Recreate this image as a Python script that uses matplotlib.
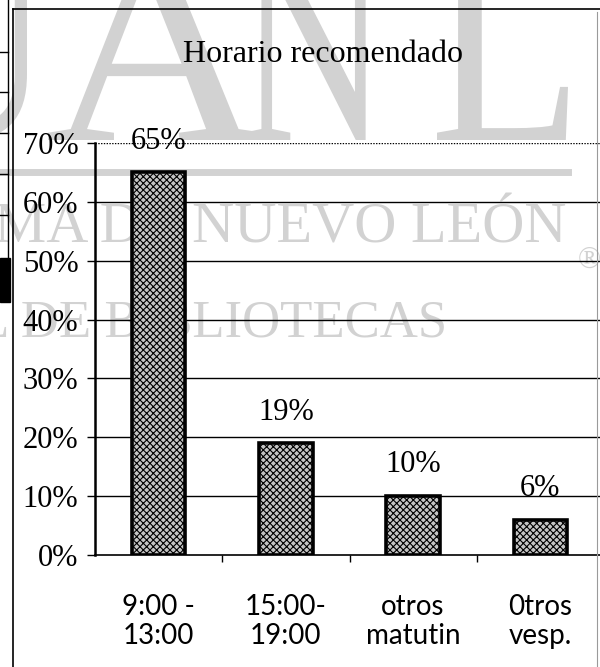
import numpy as np
import matplotlib.pyplot as plt
from matplotlib.lines import Line2D
from matplotlib.patches import Rectangle, PathPatch
from matplotlib.textpath import TextPath
from matplotlib.font_manager import FontProperties
from matplotlib.transforms import Affine2D

plt.rcParams['font.family'] = 'Liberation Serif'
plt.rcParams['hatch.color'] = '#3a3a3a'
plt.rcParams['hatch.linewidth'] = 0.8

# data
categories = ['9:00 -\n13:00', '15:00-\n19:00', 'otros\nmatutin', '0tros\nvesp.']
values = [0.65, 0.19, 0.10, 0.06]
value_labels = ['65%', '19%', '10%', '6%']
y_ticks = [0, 0.1, 0.2, 0.3, 0.4, 0.5, 0.6, 0.7]

W, H = 600, 667
fig = plt.figure(figsize=(6, 6.67), dpi=100)


def fx(px):
    return px / W


def fy(py):
    return 1 - py / H


# --- scanned watermark (behind chart) ---
wm = '#d2d2d2'
wm_font = FontProperties(family='Liberation Serif')


def wm_letter(ch, x0, x1, top, base):
    # big condensed letter stretched into a pixel box
    tp = TextPath((0, 0), ch, size=100, prop=wm_font)
    ext = tp.get_extents()
    sx = (x1 - x0) / ext.width
    sy = (base - top) / ext.height
    tr = (Affine2D().translate(-ext.x0, -ext.y0).scale(sx, sy)
          .translate(x0, H - base).scale(1 / W, 1 / H) + fig.transFigure)
    fig.add_artist(PathPatch(tp, transform=tr, facecolor=wm, edgecolor='none', zorder=-2))


wm_letter('U', -115, 47, -45, 140)
wm_letter('A', 48, 264, -45, 140)
wm_letter('N', 244, 383, -45, 140)
wm_letter('L', 437, 568, -45, 140)
fig.add_artist(Line2D([fx(0), fx(568)], [fy(172), fy(172)], color=wm, lw=5, zorder=-2))
fig.text(fx(567), fy(242), 'UNIVERSIDAD AUTÓNOMA DE NUEVO LEÓN', fontsize=42,
         color=wm, zorder=-2, ha='right', va='baseline')
fig.text(fx(578), fy(268), '®', fontsize=22, color=wm, zorder=-2, ha='left', va='baseline')
fig.text(fx(447), fy(338), 'DIRECCIÓN GENERAL DE BIBLIOTECAS', fontsize=38,
         color=wm, zorder=-2, ha='right', va='baseline')

# --- frame and table fragments at the left edge ---
fig.add_artist(Line2D([fx(13), fx(600)], [fy(9), fy(9)], color='black', lw=1.2))
fig.add_artist(Line2D([fx(13), fx(13)], [fy(9), fy(667)], color='black', lw=1.2))
fig.add_artist(Line2D([fx(597), fx(597)], [fy(12), fy(667)], color='#9a9a9a', lw=0.8))
fig.add_artist(Line2D([fx(8), fx(8)], [fy(0), fy(258)], color='black', lw=1.0))
for yy in [52, 92, 133, 174, 215]:
    fig.add_artist(Line2D([fx(0), fx(8)], [fy(yy), fy(yy)], color='black', lw=1.0))
fig.add_artist(Rectangle((fx(0), fy(302)), fx(10), fy(258) - fy(302), color='black',
                         transform=fig.transFigure))

# --- chart ---
ax = fig.add_axes([fx(95), fy(555), fx(604) - fx(95), fy(143) - fy(555)])
ax.set_facecolor('none')

x = np.arange(len(categories))
bars = ax.bar(x, values, width=0.42, facecolor='#c4c4c4', edgecolor='black',
              linewidth=2.6, hatch='xxxxx', zorder=3)

for b, lab in zip(bars, value_labels):
    ax.annotate(lab, (b.get_x() + b.get_width() / 2, b.get_height()),
                xytext=(0, 12), textcoords='offset points', ha='center',
                va='bottom', fontsize=22)

ax.set_xlim(-0.5, len(categories) - 0.5)
ax.set_ylim(0, 0.7)
ax.set_yticks(y_ticks)
ax.set_yticklabels([f'{int(round(t * 100))}%' for t in y_ticks], fontsize=22)
for t in y_ticks[1:-1]:
    ax.axhline(t, color='black', lw=1.0, zorder=1)
ax.axhline(0.7, color='black', lw=1.0, ls=(0, (1, 1)), zorder=1)

ax.set_xticks(x)
ax.set_xticklabels(categories, fontsize=20, family='Lato', linespacing=1.15)
ax.tick_params(axis='x', length=0, pad=28)
ax.set_xticks(np.arange(0.5, len(categories) - 0.5), minor=True)
ax.tick_params(axis='x', which='minor', length=5, width=1, direction='out')
ax.tick_params(axis='y', length=6, width=1, direction='out', pad=6)

for s in ['top', 'right']:
    ax.spines[s].set_visible(False)
ax.spines['left'].set_linewidth(1.8)
ax.spines['bottom'].set_linewidth(1.2)

fig.text(fx(323), fy(55), 'Horario recomendado', fontsize=23, ha='center', va='center')

fig.savefig('out.png', dpi=100, facecolor='white')
